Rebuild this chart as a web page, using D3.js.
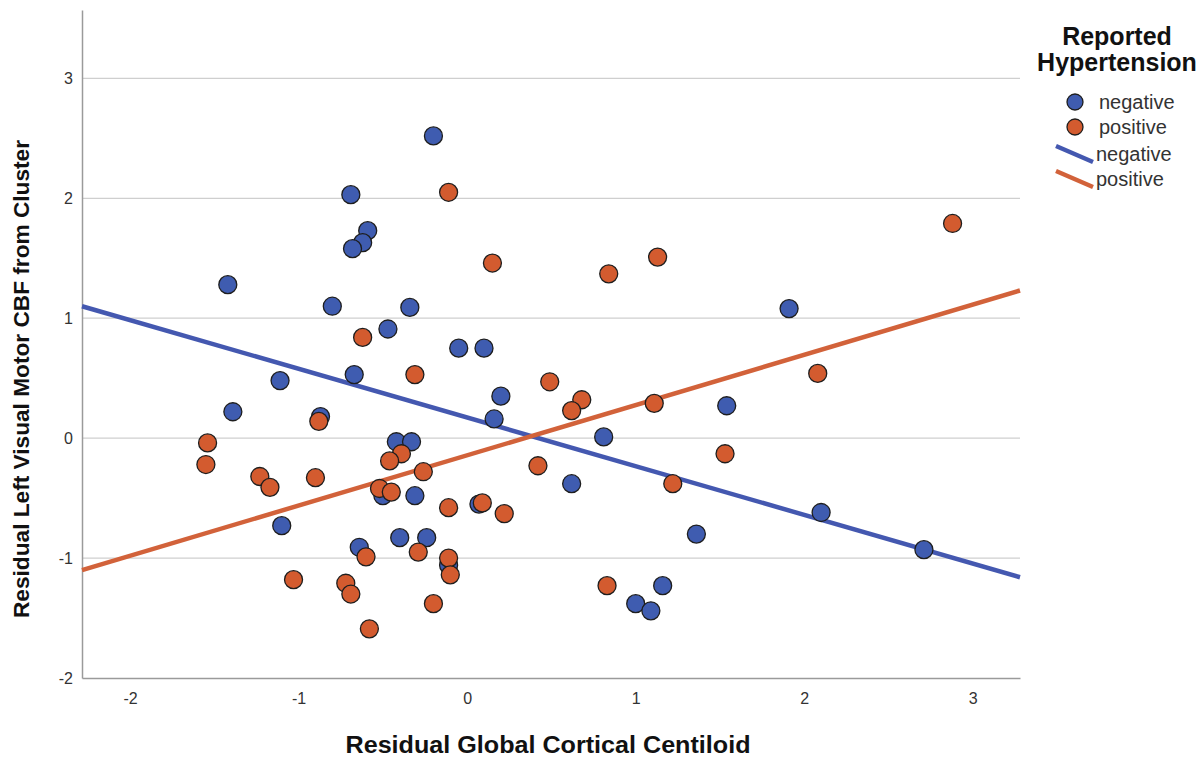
<!DOCTYPE html>
<html><head><meta charset="utf-8">
<script src="https://cdn.jsdelivr.net/npm/d3@7"></script>
<style>
body{margin:0;background:#fff;}
svg{display:block;font-family:Arial,"Liberation Sans",sans-serif;}
</style></head>
<body><svg id="chart" width="1202" height="759"></svg>
<script>
// Data
const negX = [-0.20,-0.69,-0.59,-0.62,-0.68,-1.42,-0.80,-0.34,-0.47,-0.05,0.10,-1.11,-0.67,0.20,-1.39,-0.87,0.16,-0.42,-0.33,-0.50,-0.31,0.07,-1.10,-0.40,-0.24,-0.64,-0.11,1.91,1.54,0.81,0.62,2.10,1.36,2.71,1.16,1.00,1.09];
const negY = [2.52,2.03,1.73,1.63,1.58,1.28,1.10,1.09,0.91,0.75,0.75,0.48,0.53,0.35,0.22,0.18,0.16,-0.03,-0.03,-0.48,-0.48,-0.55,-0.73,-0.83,-0.83,-0.91,-1.06,1.08,0.27,0.01,-0.38,-0.62,-0.80,-0.93,-1.23,-1.38,-1.44];
const posX = [-0.11,0.15,-0.62,-0.31,-1.54,-1.55,-0.88,-0.39,-0.46,-1.23,-1.17,-0.90,-0.26,-0.52,-0.45,-0.11,0.09,0.22,-0.60,-0.29,-0.11,-0.10,-1.03,-0.72,-0.69,-0.20,-0.58,0.84,1.13,0.49,0.68,0.62,1.11,0.42,1.22,1.53,0.83,2.88,2.08];
const posY = [2.05,1.46,0.84,0.53,-0.04,-0.22,0.14,-0.13,-0.19,-0.32,-0.41,-0.33,-0.28,-0.42,-0.45,-0.58,-0.54,-0.63,-0.99,-0.95,-1.00,-1.14,-1.18,-1.21,-1.30,-1.38,-1.59,1.37,1.51,0.47,0.32,0.23,0.29,-0.23,-0.38,-0.13,-1.23,1.79,0.54];
const groups = ["negative","positive"];
const fitIntercept = [0.172,-0.143];
const fitSlope = [-0.406,0.419];
const xTicks = [-2,-1,0,1,2,3];
const yTicks = [-2,-1,0,1,2,3];
const xDomain = [-2.285,3.28];
const yDomain = [-2,3.57];
const xTitle = "Residual Global Cortical Centiloid";
const yTitle = "Residual Left Visual Motor CBF from Cluster";
const legendTitle = ["Reported","Hypertension"];

const colors = {negative:"#3f5cb0", positive:"#d35b2f"};
const lineColors = {negative:"#4458b0", positive:"#d2623a"};
const narrow = "'Liberation Sans Narrow','Arial Narrow',Arial,sans-serif";

const svg = d3.select("#chart");
const L=82, R=1020, T=10, B=678;
const x = d3.scaleLinear().domain(xDomain).range([L,R]);
const y = d3.scaleLinear().domain(yDomain).range([B,T]);

// gridlines
svg.append("g").selectAll("line").data(yTicks.filter(d=>d>-2)).join("line")
  .attr("x1",L).attr("x2",R).attr("y1",d=>y(d)).attr("y2",d=>y(d))
  .attr("stroke","#cfcfcf").attr("stroke-width",1.3);

const fmt = d=>String(d);
// axes
const yAxis = d3.axisLeft(y).tickValues(yTicks).tickSize(0).tickPadding(9).tickFormat(fmt);
const gy = svg.append("g").attr("transform",`translate(${L},0)`).call(yAxis);
gy.select(".domain").attr("stroke","#9a9a9a").attr("stroke-width",1.5);
gy.selectAll("text").attr("font-size",16).attr("fill","#333").attr("font-family",narrow);

const xAxis = d3.axisBottom(x).tickValues(xTicks).tickSize(0).tickPadding(15).tickFormat(fmt);
const gx = svg.append("g").attr("transform",`translate(0,${B})`).call(xAxis);
gx.select(".domain").attr("stroke","#9a9a9a").attr("stroke-width",1.5);
gx.selectAll("text").attr("font-size",16).attr("fill","#333").attr("font-family",narrow);

// fit lines
const lines = svg.append("g");
groups.forEach((g,i)=>{
  lines.append("line")
    .attr("x1",x(xDomain[0])).attr("y1",y(fitIntercept[i]+fitSlope[i]*xDomain[0]))
    .attr("x2",x(xDomain[1])).attr("y2",y(fitIntercept[i]+fitSlope[i]*xDomain[1]))
    .attr("stroke",lineColors[g]).attr("stroke-width",4.5);
});

// points
const pts = svg.append("g");
const series = [{g:"negative",xs:negX,ys:negY},{g:"positive",xs:posX,ys:posY}];
series.forEach(s=>{
  pts.selectAll(null).data(s.xs.map((v,i)=>[v,s.ys[i]])).join("circle")
    .attr("cx",d=>x(d[0])).attr("cy",d=>y(d[1])).attr("r",9)
    .attr("fill",colors[s.g]).attr("stroke","#1e1e1e").attr("stroke-width",1.3);
});

// titles
svg.append("text").attr("x",548).attr("y",753).attr("text-anchor","middle")
  .attr("font-size",23).attr("font-weight","bold").attr("fill","#111").attr("font-family",narrow)
  .attr("textLength",405).attr("lengthAdjust","spacingAndGlyphs").text(xTitle);
svg.append("text").attr("transform","translate(29,379) rotate(-90)").attr("text-anchor","middle")
  .attr("font-size",22).attr("font-weight","bold").attr("fill","#111").attr("font-family",narrow)
  .attr("textLength",478).attr("lengthAdjust","spacingAndGlyphs").text(yTitle);

// legend
const lg = svg.append("g");
legendTitle.forEach((t,i)=>{
  lg.append("text").attr("x",1117).attr("y",45+i*26).attr("text-anchor","middle")
    .attr("font-size",25).attr("font-weight","bold").attr("fill","#111").text(t);
});
groups.forEach((g,i)=>{
  lg.append("circle").attr("cx",1075).attr("cy",102+i*25).attr("r",8)
    .attr("fill",colors[g]).attr("stroke","#1e1e1e").attr("stroke-width",1.3);
  lg.append("text").attr("x",1099).attr("y",109+i*25).attr("font-size",20).attr("fill","#333").attr("font-family",narrow).text(g);
});
groups.forEach((g,i)=>{
  const cy = 154+i*25;
  lg.append("line").attr("x1",1056).attr("y1",cy-8).attr("x2",1093).attr("y2",cy+8)
    .attr("stroke",lineColors[g]).attr("stroke-width",4.5);
  lg.append("text").attr("x",1096).attr("y",cy+7).attr("font-size",20).attr("fill","#333").attr("font-family",narrow).text(g);
});
</script>
</body></html>
